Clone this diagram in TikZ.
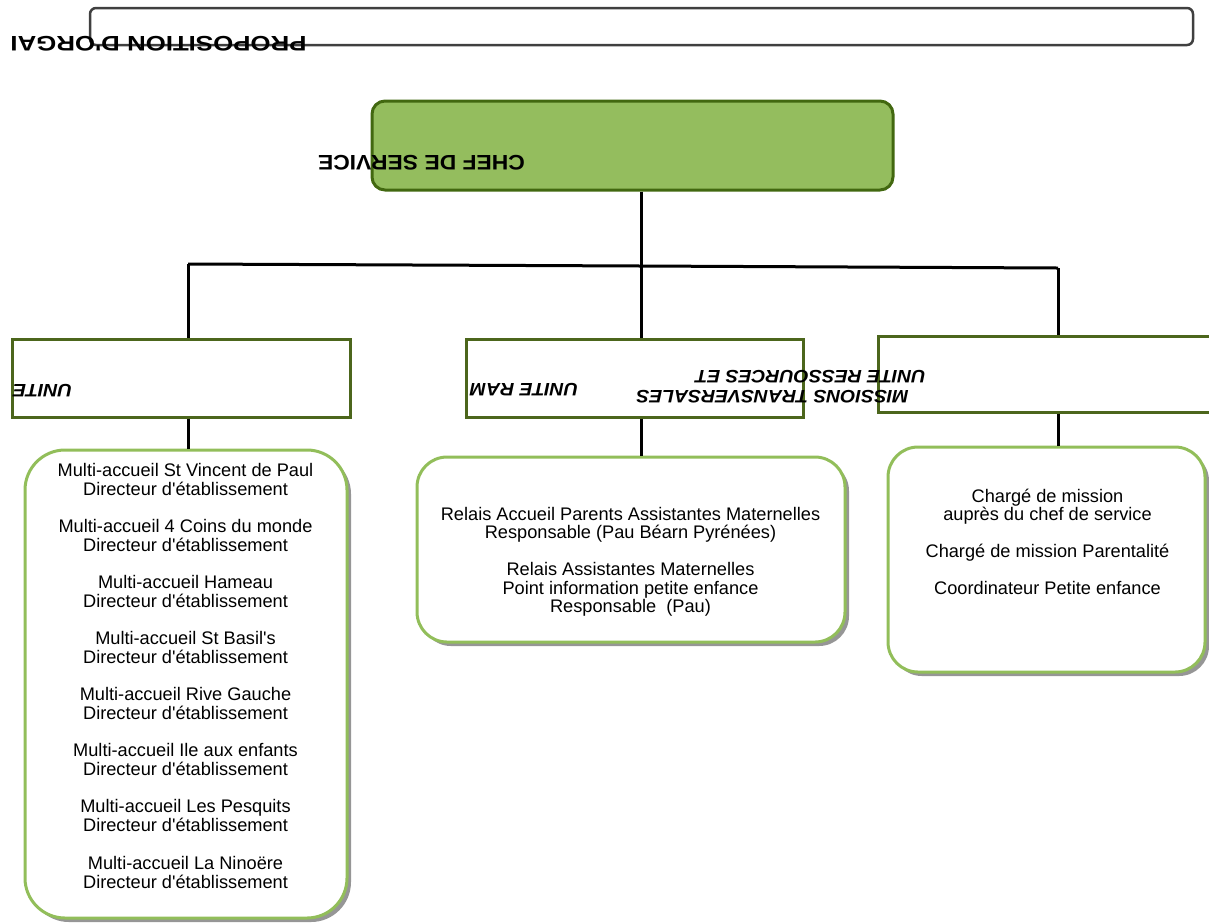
\documentclass[tikz,border=0pt]{standalone}
\usepackage{fontspec}
\setmainfont{Liberation Sans}[Ligatures=TeXOff]
\usepackage{graphicx}
\usetikzlibrary{shadows}
\definecolor{chefgreen}{RGB}{148,189,94}
\definecolor{darkgreen}{RGB}{66,104,16}
\definecolor{unitgreen}{RGB}{76,102,28}
\definecolor{lightgreen}{RGB}{146,190,90}
\definecolor{framegray}{RGB}{64,64,64}
\definecolor{shadowgray}{RGB}{150,150,150}
\begin{document}
\begin{tikzpicture}[x=1pt,y=-1pt,
  topbox/.style={draw=framegray, line width=2.5pt, rounded corners=6pt, inner sep=0pt},
  chefbox/.style={draw=darkgreen, fill=chefgreen, line width=3pt, rounded corners=13pt, inner sep=0pt},
  unitbox/.style={draw=unitgreen, fill=white, line width=3pt, inner sep=0pt},
  listbox/.style={draw=lightgreen, fill=white, line width=3pt, inner sep=0pt,
    drop shadow={shadow xshift=4pt, shadow yshift=-4pt, fill=shadowgray, opacity=1}},
  link/.style={draw=black, line width=3pt},
  txt/.style={anchor=base, inner sep=0pt, font=\fontsize{18.2}{19}\selectfont},
  fliptitle/.style={rotate=180, inner sep=0pt, anchor=center, font=\bfseries\fontsize{21}{21}\selectfont},
  flipunit/.style={rotate=180, inner sep=0pt, anchor=center, font=\bfseries\itshape\fontsize{18}{18}\selectfont}
]
\useasboundingbox (0,0) rectangle (1209,922);

% top frame and title
\node[topbox, minimum width=1103pt, minimum height=37pt] (top) at (641.5,26.5) {};
\node[fliptitle] (title) at (158.5,43.5) {\scalebox{1.23}[1]{PROPOSITION D'ORGAI}};

% chef de service
\node[chefbox, minimum width=521pt, minimum height=89pt] (chef) at (632.5,145.5) {};
\node[fliptitle] (cheft) at (421.5,162.5) {\scalebox{1.09}[1]{CHEF DE SERVICE}};

% junctions
\coordinate (jL) at (188,264);
\coordinate (jM) at (641,266);
\coordinate (jR) at (1058,268);

% unit boxes
\node[unitbox, minimum width=338pt, minimum height=78pt] (u1) at (181,378) {};
\node[unitbox, minimum width=337pt, minimum height=78pt] (u2) at (634.5,378) {};
\node[unitbox, minimum width=335pt, minimum height=76pt] (u3) at (1045.5,374) {};

% list boxes
\node[listbox, rounded corners=40pt, minimum width=322pt, minimum height=468pt] (bA) at (186,684) {};
\node[listbox, rounded corners=30pt, minimum width=428pt, minimum height=185pt] (bB) at (631,549.5) {};
\node[listbox, rounded corners=30pt, minimum width=317pt, minimum height=225pt] (bC) at (1046.5,559.5) {};

% connectors
\draw[link] (jM |- chef.south) -- (jM);
\draw[link] (jL) -- (jM) -- (jR);
\draw[link] (jL) -- (jL |- u1.north);
\draw[link] (jM) -- (jM |- u2.north);
\draw[link] (jR) -- (jR |- u3.north);
\draw[link] (jL |- u1.south) -- (jL |- bA.north);
\draw[link] (jM |- u2.south) -- (jM |- bB.north);
\draw[link] (jR |- u3.south) -- (jR |- bC.north);

% unit labels (upside down)
\node[flipunit] (u1t) at (42.5,391) {\scalebox{1.1}[1]{UNITE}};
\node[flipunit] (u2t) at (524,390) {\scalebox{1.08}[1]{UNITE RAM}};
\node[flipunit] (u3a) at (810.5,376.5) {\scalebox{1.08}[1]{UNITE RESSOURCES ET}};
\node[flipunit] (u3b) at (772.5,396.5) {\scalebox{1.08}[1]{MISSIONS TRANSVERSALES}};

% list A
\foreach \k/\nm in {0/St Vincent de Paul,1/4 Coins du monde,2/Hameau,3/St Basil's,4/Rive Gauche,5/Ile aux enfants,6/Les Pesquits,7/La Ninoëre}{
  \node[txt] (a\k) at (185.5,476+56.15*\k) {Multi-accueil \nm};
  \node[txt] (d\k) at (185.5,495+56.15*\k) {Directeur d'établissement};
}

% list B
\node[txt] (b1) at (630.5,520) {Relais Accueil Parents Assistantes Maternelles};
\node[txt] (b2) at (630.5,538.5) {Responsable (Pau Béarn Pyrénées)};
\node[txt] (b3) at (630.5,575.5) {Relais Assistantes Maternelles};
\node[txt] (b4) at (630.5,594) {Point information petite enfance};
\node[txt] (b5) at (630.5,612.5) {Responsable\ \ (Pau)};

% list C
\node[txt] (c1) at (1047.5,502) {Chargé de mission};
\node[txt] (c2) at (1047.5,520) {auprès du chef de service};
\node[txt] (c3) at (1047.5,557) {Chargé de mission Parentalité};
\node[txt] (c4) at (1047.5,594) {Coordinateur Petite enfance};
\end{tikzpicture}
\end{document}
